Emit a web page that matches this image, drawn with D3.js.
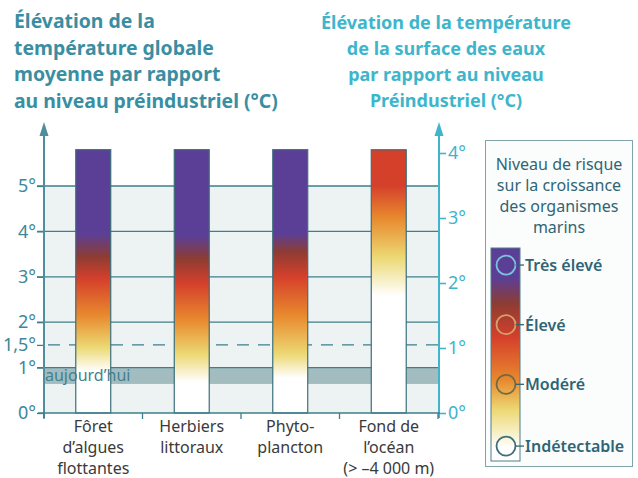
<!DOCTYPE html>
<html lang="fr">
<head>
<meta charset="utf-8">
<script src="https://cdn.jsdelivr.net/npm/d3@7/dist/d3.min.js"></script>
<style>
  html, body { margin: 0; padding: 0; background: #ffffff; }
  svg { display: block; font-family: "Noto Sans", "Open Sans", sans-serif; }
</style>
</head>
<body>
<svg id="chart" width="638" height="478"></svg>
<script>
// Écosystèmes marins (axe gauche : température globale, axe droit : surface des eaux)
const categories = ["Fôret d’algues flottantes", "Herbiers littoraux", "Phytoplancton", "Fond de l’océan"];
const categoryLines = [
  ["Fôret", "d’algues", "flottantes"],
  ["Herbiers", "littoraux"],
  ["Phyto-", "plancton"],
  ["Fond de", "l’océan", "(> –4 000 m)"]
];
const barAxis = ["gauche", "gauche", "gauche", "droite"];
const barTop = [5.8, 5.8, 5.8, 4.05];
// Seuils (°C) : blanc, jaune, orange, rouge, brun, violet
const riskStops = [
  [0.92, 1.45, 2.15, 2.95, 3.45, 3.95],
  [0.68, 1.3, 2.05, 2.85, 3.4, 3.9],
  [0.77, 1.3, 2.15, 3.0, 3.55, 3.95],
  [1.8, 2.4, 3.0, 3.5, null, null]
];
const leftTicks = [0, 1, 1.5, 2, 3, 4, 5];
const rightTicks = [0, 1, 2, 3, 4];
const gridValues = [1, 2, 3, 4, 5];
const todayRange = [0.64, 1.0];
const warmingLimit = 1.5;
const leftTitle = ["Élévation de la", "température globale", "moyenne par rapport", "au niveau préindustriel (°C)"];
const rightTitle = ["Élévation de la température", "de la surface des eaux", "par rapport au niveau", "Préindustriel (°C)"];
const legendTitle = ["Niveau de risque", "sur la croissance", "des organismes", "marins"];
const legendLevels = ["Très élevé", "Élevé", "Modéré", "Indétectable"];
const legendPos = [0.92, 0.64, 0.36, 0.07]; // position le long de la barre de légende (0 = bas)

const stopColors = ["#ffffff", "#ecd873", "#e8892e", "#d5402b", "#8d3c33", "#5b3f96"];
const legendRingColors = ["#7cc3dc", "#d6a06c", "#6e6a48", "#3c6f7a"];

const teal = "#3e7f8d";
const tealText = "#3d8798";
const cyan = "#3fb4ca";

const svg = d3.select("#chart");
const defs = svg.append("defs");

const yL = d3.scaleLinear().domain([0, 5]).range([413, 186]);
const yR = d3.scaleLinear().domain([0, 4]).range([413, 153]);
const x = d3.scaleBand().domain(categories).range([44, 438]).padding(0);
const barW = x.bandwidth() * 0.355;

// Titres
const tl = svg.append("text").attr("x", 14).attr("y", 28)
  .attr("fill", "#3a8ea2").attr("font-size", 19.4).attr("font-weight", 700);
leftTitle.forEach((t, i) => tl.append("tspan").attr("x", 14).attr("dy", i ? 26.5 : 0).text(t));
const tr = svg.append("text").attr("x", 446).attr("y", 29).attr("text-anchor", "middle")
  .attr("fill", "#3db6cc").attr("font-size", 18).attr("font-weight", 700);
rightTitle.forEach((t, i) => tr.append("tspan").attr("x", 446).attr("dy", i ? 26 : 0).text(t));

// Fond du graphique
svg.append("rect").attr("x", 44).attr("y", yL(5)).attr("width", 394).attr("height", yL(0) - yL(5))
  .attr("fill", "#edf3f3");

// Bande « aujourd'hui »
svg.append("rect").attr("x", 44).attr("y", yL(todayRange[1])).attr("width", 394)
  .attr("height", yL(todayRange[0]) - yL(todayRange[1])).attr("fill", "#a3bcc0");

// Quadrillage
svg.append("g").selectAll("line").data(gridValues).join("line")
  .attr("x1", 37).attr("x2", 438).attr("y1", d => yL(d)).attr("y2", d => yL(d))
  .attr("stroke", teal).attr("stroke-width", 1.3);

// Seuil 1,5 °C
svg.append("line").attr("x1", 48).attr("x2", 438).attr("y1", yL(warmingLimit)).attr("y2", yL(warmingLimit))
  .attr("stroke", teal).attr("stroke-width", 1.3).attr("stroke-dasharray", "12,9");

// Barres en dégradé
categories.forEach((c, i) => {
  const ys = barAxis[i] === "gauche" ? yL : yR;
  const g = defs.append("linearGradient").attr("id", "grad" + i)
    .attr("gradientUnits", "userSpaceOnUse")
    .attr("x1", 0).attr("x2", 0).attr("y1", ys(0)).attr("y2", ys(barTop[i]));
  riskStops[i].forEach((v, k) => {
    if (v === null) return;
    const off = (ys(0) - ys(v)) / (ys(0) - ys(barTop[i]));
    g.append("stop").attr("offset", Math.min(1, off)).attr("stop-color", stopColors[k]);
  });
});
svg.append("g").selectAll("rect").data(categories).join("rect")
  .attr("x", d => x(d) + (x.bandwidth() - barW) / 2)
  .attr("width", barW)
  .attr("y", (d, i) => (barAxis[i] === "gauche" ? yL : yR)(barTop[i]))
  .attr("height", (d, i) => { const ys = barAxis[i] === "gauche" ? yL : yR; return ys(0) - ys(barTop[i]); })
  .attr("fill", (d, i) => `url(#grad${i})`)
  .attr("stroke", "#3a6f7b").attr("stroke-width", 1.2);

svg.append("text").attr("x", 45).attr("y", 381).attr("fill", "#44808f").attr("font-size", 16)
  .text("aujourd’hui");

// Axe gauche
const axL = svg.append("g").attr("transform", "translate(44,0)")
  .call(d3.axisLeft(yL).tickValues(leftTicks).tickSize(7).tickPadding(1)
    .tickFormat(d => String(d).replace(".", ",") + "°"));
axL.select(".domain").remove();
axL.selectAll(".tick line").attr("stroke", teal).attr("stroke-width", 1.3);
axL.selectAll(".tick text").attr("fill", tealText).attr("font-size", 18).attr("font-family", "Noto Sans");
svg.append("line").attr("x1", 44).attr("x2", 44).attr("y1", 418).attr("y2", 132)
  .attr("stroke", "#4f8e9c").attr("stroke-width", 2);
svg.append("path").attr("d", "M44,122 L39.5,136 L48.5,136 Z").attr("fill", "#4f8e9c");

// Axe droit
const axR = svg.append("g").attr("transform", "translate(439,0)")
  .call(d3.axisRight(yR).tickValues(rightTicks).tickSize(7).tickPadding(2).tickFormat(d => d + "°"));
axR.select(".domain").remove();
axR.selectAll(".tick line").attr("stroke", cyan).attr("stroke-width", 1.6);
axR.selectAll(".tick text").attr("fill", cyan).attr("font-size", 18).attr("font-family", "Noto Sans");
svg.append("line").attr("x1", 439).attr("x2", 439).attr("y1", 418).attr("y2", 132)
  .attr("stroke", cyan).attr("stroke-width", 2);
svg.append("path").attr("d", "M439,122 L434.5,136 L443.5,136 Z").attr("fill", cyan);

// Axe des catégories
svg.append("line").attr("x1", 38).attr("x2", 440).attr("y1", 413).attr("y2", 413)
  .attr("stroke", teal).attr("stroke-width", 1.4);
const bounds = categories.map(c => x(c)).concat([x(categories[categories.length - 1]) + x.bandwidth()]);
svg.append("g").selectAll("line").data(bounds).join("line")
  .attr("x1", d => d).attr("x2", d => d).attr("y1", 413).attr("y2", 419)
  .attr("stroke", teal).attr("stroke-width", 1.3);
categories.forEach((c, i) => {
  const t = svg.append("text").attr("x", x(c) + x.bandwidth() / 2).attr("y", 432)
    .attr("text-anchor", "middle").attr("fill", "#3a3a3a").attr("font-size", 16);
  categoryLines[i].forEach((l, k) => t.append("tspan").attr("x", x(c) + x.bandwidth() / 2)
    .attr("dy", k ? 21 : 0).text(l));
});

// Légende
const lg = svg.append("g");
lg.append("rect").attr("x", 485.5).attr("y", 140.5).attr("width", 147).attr("height", 326)
  .attr("fill", "#fbfcfc").attr("stroke", "#7fa4ac").attr("stroke-width", 1);
const lt = lg.append("text").attr("x", 559).attr("y", 170).attr("text-anchor", "middle")
  .attr("fill", "#2f6574").attr("font-size", 16);
legendTitle.forEach((t, i) => lt.append("tspan").attr("x", 559).attr("dy", i ? 21 : 0).text(t));

const legY = d3.scaleLinear().domain([0, 1]).range([461, 248]);
const lgGrad = defs.append("linearGradient").attr("id", "legGrad").attr("x1", 0).attr("x2", 0).attr("y1", 1).attr("y2", 0);
[0.06, 0.24, 0.38, 0.58, 0.74, 0.86].forEach((o, k) =>
  lgGrad.append("stop").attr("offset", o).attr("stop-color", stopColors[k]));
lg.append("rect").attr("x", 491).attr("y", legY(1)).attr("width", 29).attr("height", legY(0) - legY(1))
  .attr("fill", "url(#legGrad)").attr("stroke", "#4f7f8a").attr("stroke-width", 1);
legendLevels.forEach((lev, i) => {
  const cy = legY(legendPos[i]);
  lg.append("circle").attr("cx", 506).attr("cy", cy).attr("r", 9.5)
    .attr("fill", "none").attr("stroke", legendRingColors[i]).attr("stroke-width", 1.8);
  lg.append("line").attr("x1", 515.5).attr("x2", 524).attr("y1", cy).attr("y2", cy)
    .attr("stroke", "#2f6574").attr("stroke-width", 1.3);
  lg.append("text").attr("x", 525).attr("y", cy + 6).attr("fill", "#2f6574")
    .attr("font-size", 16).attr("font-weight", 600).text(lev);
});
</script>
</body>
</html>
